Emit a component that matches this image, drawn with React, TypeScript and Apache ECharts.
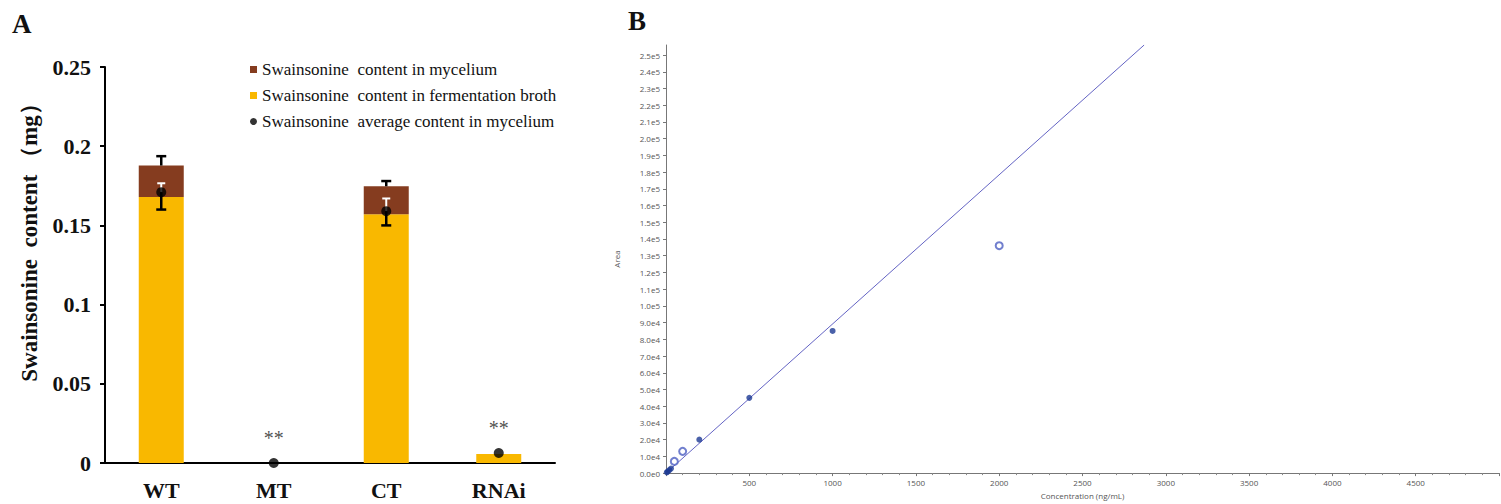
import React, { useEffect, useRef } from "react";
import * as echarts from "echarts";

// Panel A data
const categories = ["WT", "MT", "CT", "RNAi"];
const brothContent = [0.168, 0, 0.157, 0.0057];
const myceliumContent = [0.0198, 0, 0.0177, 0];
const totalErrHigh = [0.1937, null, 0.178, null];
const avgMycelium = [0.171, 0, 0.159, 0.0063];
const avgErrLow = [0.16, null, 0.15, null];
const avgErrHigh = [0.1766, null, 0.167, null];
const significance = ["", "**", "", "**"];
const yTicksA = [0, 0.05, 0.1, 0.15, 0.2, 0.25];

// Panel B data
const calibrationPoints: [number, number][] = [
  [5, 450],
  [10, 900],
  [20, 1800],
  [30, 2700],
  [200, 20000],
  [500, 45000],
  [1000, 85000],
];
const excludedPoints: [number, number][] = [
  [50, 7000],
  [100, 13000],
  [2000, 136000],
];
const fitLine: [number, number][] = [
  [0, 0],
  [2870, 256000],
];

const serif = "Liberation Serif";
const sans = "Open Sans";
const BROWN = "#853C1F";
const YELLOW = "#F9B800";

export default function App() {
  const ref = useRef<HTMLDivElement>(null);
  useEffect(() => {
    document.body.style.margin = "0";
    const chart = echarts.init(ref.current!, null, { renderer: "svg" });

    const totalErrData = categories
      .map((_, i) =>
        totalErrHigh[i] == null
          ? null
          : [i, brothContent[i] + myceliumContent[i], totalErrHigh[i]]
      )
      .filter((d) => d != null);
    const avgErrData = categories
      .map((_, i) =>
        avgErrLow[i] == null ? null : [i, avgMycelium[i], avgErrLow[i], avgErrHigh[i]]
      )
      .filter((d) => d != null);

    const option: any = {
      animation: false,
      legend: {
        orient: "vertical",
        left: 245,
        top: 56,
        itemWidth: 7,
        itemHeight: 7,
        itemGap: 9,
        textStyle: {
          fontFamily: "Times New Roman",
          fontWeight: "normal",
          fontSize: 17,
          color: "#111",
          lineHeight: 17,
        },
        data: [
          { name: "Swainsonine  content in mycelium", icon: "rect" },
          { name: "Swainsonine  content in fermentation broth", icon: "rect" },
          { name: "Swainsonine  average content in mycelium", icon: "circle" },
        ],
      },
      grid: [
        { left: 105, top: 67, width: 450, height: 396 },
        { left: 666, top: 45, right: 2, bottom: 25 },
      ],
      xAxis: [
        {
          type: "category",
          gridIndex: 0,
          data: categories,
          axisLine: { lineStyle: { color: "#000", width: 2 } },
          axisTick: { inside: true, length: 7, lineStyle: { color: "#000", width: 2 } },
          axisLabel: {
            fontFamily: serif,
            fontWeight: "bold",
            fontSize: 22,
            color: "#111",
            margin: 16,
          },
        },
        {
          type: "value",
          gridIndex: 1,
          min: 0,
          max: 5000,
          interval: 500,
          splitLine: { show: false },
          axisLine: { lineStyle: { color: "#777", width: 1 } },
          axisTick: { length: 3, lineStyle: { color: "#777" } },
          minorTick: { show: true, splitNumber: 5, length: 2, lineStyle: { color: "#888" } },
          axisLabel: {
            fontFamily: sans,
            fontSize: 8,
            color: "#555",
            margin: 5,
            showMaxLabel: false,
            formatter: (v: number) => (v === 0 || v === 5000 ? "" : String(v)),
          },
          name: "Concentration (ng/mL)",
          nameLocation: "middle",
          nameGap: 17,
          nameTextStyle: { fontFamily: sans, fontSize: 8, color: "#555" },
        },
      ],
      yAxis: [
        {
          type: "value",
          gridIndex: 0,
          min: 0,
          max: 0.25,
          interval: 0.05,
          splitLine: { show: false },
          axisLine: { show: true, lineStyle: { color: "#000", width: 2 } },
          axisTick: { show: true, length: 5, lineStyle: { color: "#000", width: 2 } },
          axisLabel: {
            fontFamily: serif,
            fontWeight: "bold",
            fontSize: 22,
            color: "#111",
            margin: 14,
            formatter: (v: number) => {
              const t = yTicksA.find((x) => Math.abs(x - v) < 1e-9);
              return t === undefined ? "" : String(t);
            },
          },
        },
        {
          type: "value",
          gridIndex: 1,
          min: 0,
          max: 256000,
          interval: 10000,
          splitLine: { show: false },
          axisLine: { show: true, lineStyle: { color: "#777", width: 1 } },
          axisTick: { show: true, length: 3, lineStyle: { color: "#777" } },
          axisLabel: {
            fontFamily: sans,
            fontSize: 8,
            color: "#555",
            margin: 6,
            showMaxLabel: false,
            formatter: (v: number) =>
              v % 10000 === 0 ? v.toExponential(1).replace("e+", "e") : "",
          },
          name: "Area",
          nameLocation: "middle",
          nameGap: 46,
          nameTextStyle: { fontFamily: sans, fontSize: 8, color: "#555" },
        },
      ],
      series: [
        {
          name: "Swainsonine  content in fermentation broth",
          type: "bar",
          stack: "total",
          xAxisIndex: 0,
          yAxisIndex: 0,
          barWidth: 45,
          itemStyle: { color: YELLOW },
          data: brothContent,
          z: 2,
        },
        {
          name: "Swainsonine  content in mycelium",
          type: "bar",
          stack: "total",
          xAxisIndex: 0,
          yAxisIndex: 0,
          barWidth: 45,
          itemStyle: { color: BROWN },
          data: myceliumContent,
          z: 2,
        },
        {
          type: "custom",
          xAxisIndex: 0,
          yAxisIndex: 0,
          z: 3,
          data: totalErrData,
          renderItem: (params: any, api: any) => {
            const i = api.value(0);
            const base = api.coord([i, api.value(1)]);
            const top = api.coord([i, api.value(2)]);
            const style = { stroke: "#000", lineWidth: 2.5 };
            return {
              type: "group",
              children: [
                { type: "line", shape: { x1: base[0], y1: base[1], x2: top[0], y2: top[1] }, style },
                { type: "line", shape: { x1: top[0] - 5, y1: top[1], x2: top[0] + 5, y2: top[1] }, style },
              ],
            };
          },
        },
        {
          type: "custom",
          xAxisIndex: 0,
          yAxisIndex: 0,
          z: 3,
          data: avgErrData,
          renderItem: (params: any, api: any) => {
            const i = api.value(0);
            const mid = api.coord([i, api.value(1)]);
            const low = api.coord([i, api.value(2)]);
            const high = api.coord([i, api.value(3)]);
            const black = { stroke: "#000", lineWidth: 2.5 };
            const white = { stroke: "#fff", lineWidth: 2 };
            return {
              type: "group",
              children: [
                { type: "line", shape: { x1: mid[0], y1: mid[1], x2: high[0], y2: high[1] }, style: white },
                { type: "line", shape: { x1: high[0] - 4, y1: high[1], x2: high[0] + 4, y2: high[1] }, style: white },
                { type: "line", shape: { x1: mid[0], y1: mid[1], x2: low[0], y2: low[1] }, style: black },
                { type: "line", shape: { x1: low[0] - 5, y1: low[1], x2: low[0] + 5, y2: low[1] }, style: black },
              ],
            };
          },
        },
        {
          name: "Swainsonine  average content in mycelium",
          type: "scatter",
          xAxisIndex: 0,
          yAxisIndex: 0,
          symbol: "circle",
          symbolSize: 10,
          itemStyle: { color: "#000" },
          z: 4,
          data: avgMycelium.map((v, i) => ({
            value: [i, v],
            label: {
              show: significance[i] !== "",
              formatter: significance[i],
              position: "top",
              distance: 10,
              fontFamily: "serif",
              fontWeight: "normal",
              fontSize: 20,
              color: "#222",
            },
          })),
        },
        {
          type: "line",
          xAxisIndex: 1,
          yAxisIndex: 1,
          showSymbol: false,
          symbol: "none",
          lineStyle: { color: "#6464c4", width: 1 },
          data: fitLine,
          z: 2,
        },
        {
          type: "scatter",
          xAxisIndex: 1,
          yAxisIndex: 1,
          symbol: "circle",
          symbolSize: 6,
          itemStyle: { color: "#1d3a94" },
          data: calibrationPoints,
          z: 3,
        },
        {
          type: "scatter",
          xAxisIndex: 1,
          yAxisIndex: 1,
          symbol: "emptyCircle",
          symbolSize: 7,
          itemStyle: { color: "#4d5fc2", borderColor: "#4d5fc2", borderWidth: 1 },
          data: excludedPoints,
          z: 3,
        },
      ],
      graphic: [
        {
          type: "text",
          left: 12,
          top: 10,
          style: { text: "A", font: `bold 27px ${serif}`, fill: "#111" },
        },
        {
          type: "text",
          left: 628,
          top: 7,
          style: { text: "B", font: `bold 27px ${serif}`, fill: "#111" },
        },
        {
          type: "text",
          x: 29,
          y: 237,
          rotation: Math.PI / 2,
          style: {
            text: "Swainsonine  content （mg）",
            font: `bold 23px ${serif}`,
            fill: "#111",
            textAlign: "center",
            textVerticalAlign: "middle",
          },
        },
      ],
    };
    chart.setOption(option);
    return () => chart.dispose();
  }, []);
  return (
    <div
      ref={ref}
      style={{ position: "fixed", left: 0, top: 0, width: 1501, height: 504, background: "#fff" }}
    />
  );
}
